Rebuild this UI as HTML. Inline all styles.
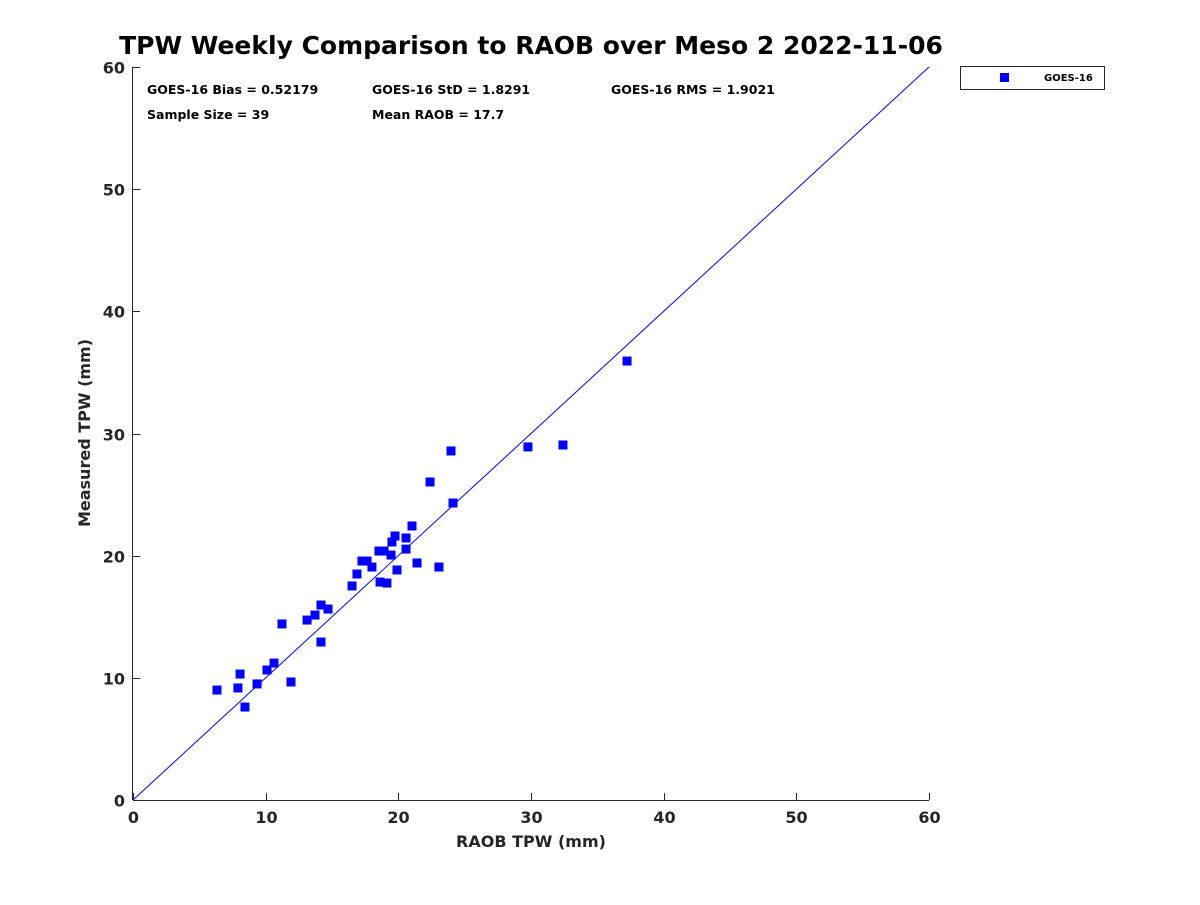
<!DOCTYPE html>
<html><head><meta charset="utf-8"><style>
body{margin:0;background:#fff;}
svg text{font-family:"DejaVu Sans","Liberation Sans",sans-serif;font-weight:bold;fill:#262626;}
</style></head><body>
<svg id="chart" width="1200" height="900" xmlns="http://www.w3.org/2000/svg">
<rect width="1200" height="900" fill="#fff"/>
<text x="531" y="54" font-size="25" text-anchor="middle" fill="#000" style="fill:#000">TPW Weekly Comparison to RAOB over Meso 2 2022-11-06</text>
<g id="axes"></g>
<g id="marks"></g>
<g font-size="12.5">
<text x="147" y="94" style="fill:#000">GOES-16 Bias = 0.52179</text>
<text x="372" y="94" style="fill:#000">GOES-16 StD = 1.8291</text>
<text x="611" y="94" style="fill:#000">GOES-16 RMS = 1.9021</text>
<text x="147" y="119" style="fill:#000">Sample Size = 39</text>
<text x="372" y="119" style="fill:#000">Mean RAOB = 17.7</text>
</g>
<g>
<rect x="960.5" y="66.5" width="144" height="23" fill="#fff" stroke="#262626"/>
<rect x="1000" y="73" width="9" height="9" fill="#0000ff"/>
<text x="1044" y="81" font-size="10" style="fill:#000">GOES-16</text>
</g>
</svg>
<script>
const raobValues=[6.33,7.91,8.07,8.44,9.35,10.1,10.63,11.23,11.91,13.12,13.72,14.17,14.17,14.7,16.51,16.88,17.26,17.64,18.01,18.54,18.62,18.92,19.14,19.45,19.52,19.75,19.9,20.58,20.58,21.03,21.41,22.39,23.06,23.97,24.12,29.77,32.41,37.24];
const measuredValues=[9.0,9.17,10.31,7.61,9.5,10.64,11.21,14.41,9.66,14.73,15.14,15.96,12.93,15.63,17.52,18.5,19.56,19.56,19.07,20.38,17.84,20.38,17.76,20.05,21.12,21.61,18.83,20.54,21.45,22.43,19.4,26.03,19.07,28.57,24.31,28.9,29.06,35.93];
const xTicks=[0,10,20,30,40,50,60];
const yTicks=[0,10,20,30,40,50,60];
const NS='http://www.w3.org/2000/svg';
const X0=133,X1=929,Y0=800,Y1=67;
const sx=v=>X0+(v/60)*(X1-X0);
const sy=v=>Y0-(v/60)*(Y0-Y1);
function mk(tag,attrs,parent){const e=document.createElementNS(NS,tag);for(const k in attrs)e.setAttribute(k,attrs[k]);parent.appendChild(e);return e;}
const axes=document.getElementById('axes'),marks=document.getElementById('marks');
let l=mk('line',{x1:X0,y1:Y0+0.5,x2:X1,y2:Y0+0.5,stroke:'#262626'},axes);


l=mk('line',{x1:X0-0.5,y1:Y1,x2:X0-0.5,y2:Y0,stroke:'#262626'},axes);


xTicks.forEach(t=>{
 const x=Math.round(sx(t))+0.5;
 mk('line',{x1:x,y1:Y0,x2:x,y2:Y0-7,stroke:'#262626'},axes);
 const tx=mk('text',{x:x,y:Y0+23,'font-size':16,'text-anchor':'middle'},axes);tx.textContent=t;
 
 
});
yTicks.forEach(t=>{
 const y=Math.round(sy(t))+0.5;
 mk('line',{x1:X0,y1:y,x2:X0+7,y2:y,stroke:'#262626'},axes);
 const tx=mk('text',{x:X0-8,y:y+6,'font-size':16,'text-anchor':'end'},axes);tx.textContent=t;
 
 
});
let t=mk('text',{x:531,y:847,'font-size':16,'text-anchor':'middle'},axes);t.textContent='RAOB TPW (mm)';


t=mk('text',{x:0,y:0,'font-size':16,'text-anchor':'middle',transform:'translate(90,433) rotate(-90)'},axes);t.textContent='Measured TPW (mm)';


const ref=mk('line',{x1:sx(0),y1:sy(0),x2:sx(60),y2:sy(60),stroke:'#0000ff','stroke-width':1},marks);


raobValues.forEach((v,i)=>{
 const r=mk('rect',{x:sx(v)-4.5,y:sy(measuredValues[i])-4.5,width:9,height:9,fill:'#0000ff'},marks);
 
 
});
</script>
</body></html>
